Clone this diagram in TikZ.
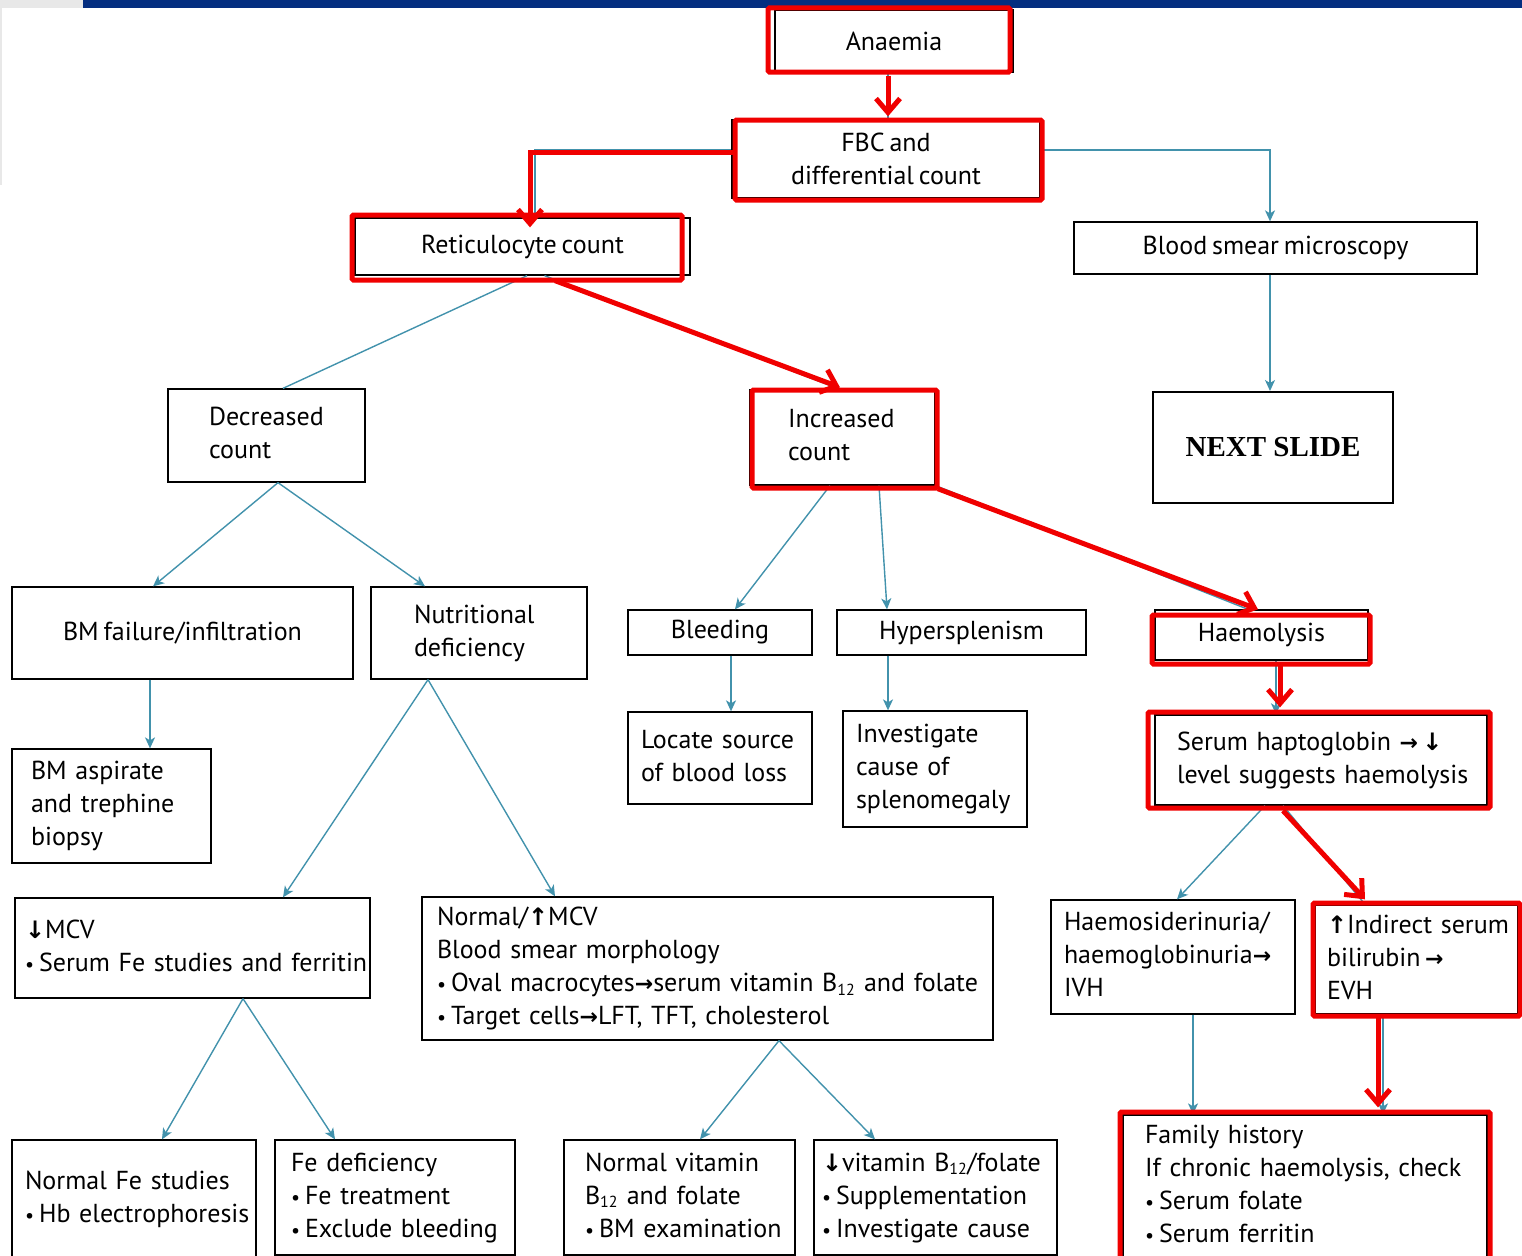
\documentclass[tikz,border=0pt]{standalone}
\usepackage{fontspec}
\setmainfont{PT Sans}[WordSpace=0.7]
\newfontfamily\arrowfont{DejaVu Sans}
\newfontfamily\slidefont{Liberation Serif}
\usetikzlibrary{arrows.meta, calc, positioning}
\definecolor{linkteal}{RGB}{66,146,172}
\definecolor{markred}{RGB}{240,0,0}
\definecolor{slidebar}{RGB}{4,46,128}
\definecolor{headgray}{RGB}{232,232,232}
\newcommand{\boxlines}[1]{\begin{tabular}{@{}l@{}}#1\end{tabular}}
\newcommand{\uparr}{{\arrowfont\bfseries\fontsize{24}{24}\selectfont ↑}}
\newcommand{\dnarr}{{\arrowfont\bfseries\fontsize{24}{24}\selectfont ↓}}
\newcommand{\toarr}{{\arrowfont\bfseries\fontsize{22}{22}\selectfont →}}
\newcommand{\bul}{{\fontsize{20}{20}\selectfont •}\kern5pt}
\newcommand{\Btw}{B\textsubscript{\fontsize{16}{16}\selectfont 12}}

\begin{document}
\begin{tikzpicture}[x=1pt,y=-1pt,
    box/.style={draw, line width=1.3pt, inner sep=0pt, align=center,
      font=\fontsize{26}{33}\selectfont},
    lbox/.style={box, align=left},
    link/.style={draw=linkteal, line width=1.4pt},
    linkarrow/.style={link, -{Stealth[length=11pt,width=10pt,inset=3pt]}},
    hilite/.style={draw=markred, line width=5pt, rounded corners=1.5pt},
    hiarrow/.style={draw=markred, line width=5pt,
      -{Straight Barb[length=14pt,width=24pt]}}]

  \useasboundingbox (0,0) rectangle (1522,1255);

  % slide header
  \fill[headgray] (0,0) rectangle (83,8);
  \fill[slidebar] (83,0) rectangle (1522,8);
  \fill[headgray] (0,8) rectangle (2,185);

  % top levels
  \node[box, minimum width=238pt, minimum height=62pt] (anaemia) at (894,41) {Anaemia};
  \node[box, minimum width=308pt, minimum height=78pt] (fbc) at (886,159) {FBC and\\differential count};
  \node[box, minimum width=335pt, minimum height=57pt] (retic) at (522.5,246.5) {Reticulocyte count};
  \node[box, minimum width=403pt, minimum height=52pt] (smear) at (1275.5,248) {Blood smear microscopy};
  \node[box, line width=2pt, minimum width=240pt, minimum height=111pt,
    font=\slidefont\bfseries\fontsize{29}{30}\selectfont] (next) at (1273,447.5) {NEXT SLIDE};

  % reticulocyte count
  \node[lbox, minimum height=93pt, text width=115pt, inner xsep=41pt] (decr) at (266.5,435.5) {\boxlines{Decreased\\count}};
  \node[lbox, minimum height=95pt, text width=109pt, inner xsep=38pt] (incr) at (842.5,437.5) {\boxlines{Increased\\count}};

  % causes
  \node[box, minimum width=341pt, minimum height=92pt] (bmf) at (182.5,633) {BM failure/infiltration};
  \node[lbox, minimum height=92pt, text width=130pt, inner xsep=43pt] (nutr) at (479,633) {\boxlines{Nutritional\\deficiency}};
  \node[box, minimum width=184pt, minimum height=45pt] (bleed) at (720,632.5) {Bleeding};
  \node[box, minimum width=249pt, minimum height=45pt] (hyper) at (961.5,632.5) {Hypersplenism};
  \node[box, minimum width=213pt, minimum height=50pt] (haemo) at (1261.5,635) {Haemolysis};

  % first tests
  \node[lbox, minimum height=114pt, text width=161pt, inner xsep=19pt] (bma) at (111.5,806) {\boxlines{BM aspirate\\and trephine\\biopsy}};
  \node[lbox, minimum height=92pt, text width=158pt, inner xsep=13pt] (locate) at (720,758) {\boxlines{Locate source\\of blood loss}};
  \node[lbox, minimum height=116pt, text width=158pt, inner xsep=13pt] (invest) at (935,769) {\boxlines{Investigate\\cause of\\splenomegaly}};
  \node[lbox, minimum height=90pt, text width=288pt, inner xsep=22pt] (hapto) at (1321,760) {\boxlines{Serum haptoglobin \toarr\,\dnarr\\level suggests haemolysis}};

  % MCV and haemolysis markers
  \node[lbox, minimum height=100pt, text width=335pt, inner xsep=10pt] (mcvlow) at (192.5,948) {\boxlines{\dnarr MCV\\\bul Serum Fe studies and ferritin}};
  \node[lbox, minimum height=143pt, text width=541pt, inner xsep=15pt] (mcvhigh) at (707.5,968.5) {\boxlines{Normal/\uparr MCV\\Blood smear morphology\\\bul Oval macrocytes\toarr serum vitamin \Btw{} and folate\\\bul Target cells\toarr LFT, TFT, cholesterol}};
  \node[lbox, minimum height=114pt, text width=218pt, inner xsep=13pt] (ivh) at (1173,957) {\boxlines{Haemosiderinuria/\\haemoglobinuria\toarr\\IVH}};
  \node[lbox, minimum height=109pt, text width=179pt, inner xsep=12pt] (evh) at (1416.5,959.5) {\boxlines{\uparr Indirect serum\\bilirubin\,\toarr\\EVH}};

  % last row
  \node[lbox, minimum height=119pt, text width=218pt, inner xsep=13pt] (normfe) at (134,1199.5) {\boxlines{Normal Fe studies\\\bul Hb electrophoresis}};
  \node[lbox, minimum height=115pt, text width=208pt, inner xsep=16pt] (fedef) at (395,1197.5) {\boxlines{Fe deficiency\\\bul Fe treatment\\\bul Exclude bleeding}};
  \node[lbox, minimum height=115pt, text width=189pt, inner xsep=21pt] (normvit) at (679.5,1197.5) {\boxlines{Normal vitamin\\\Btw{} and folate\\\bul BM examination}};
  \node[lbox, minimum height=115pt, text width=227pt, inner xsep=8pt] (vitlow) at (935.5,1197.5) {\boxlines{\dnarr vitamin \Btw/folate\\\bul Supplementation\\\bul Investigate cause}};
  \node[lbox, minimum height=143pt, text width=320pt, inner xsep=22pt] (family) at (1305,1186.5) {\boxlines{Family history\\If chronic haemolysis, check\\\bul Serum folate\\\bul Serum ferritin}};

  % teal connectors
  \draw[link] ([xshift=-6pt]anaemia.south) -- ([xshift=-6pt]anaemia.south |- fbc.north);
  \draw[link] ([yshift=9pt]fbc.west) -| ([xshift=12.5pt]retic.north);
  \draw[linkarrow] ([yshift=9pt]fbc.east) -| ([xshift=-5.5pt]smear.north);
  \draw[link] ([xshift=4.5pt]retic.south) -- ([xshift=16.5pt]decr.north);
  \draw[link] ([xshift=22pt]retic.south) -- ([xshift=-2.5pt]incr.north);
  \draw[linkarrow] ([xshift=-5.5pt]smear.south) -- ([xshift=-5.5pt]smear.south |- next.north);
  \draw[linkarrow] ([xshift=11.5pt]decr.south) -- ([xshift=-29.5pt]bmf.north);
  \draw[linkarrow] ([xshift=11.5pt]decr.south) -- ([xshift=-54pt]nutr.north);
  \draw[linkarrow] ([xshift=-12.5pt]incr.south) -- ([xshift=15pt]bleed.north);
  \draw[linkarrow] ([xshift=36.5pt]incr.south) -- ([xshift=-74.5pt]hyper.north);
  \draw[link] (incr.south east) -- ([xshift=-13.5pt]haemo.north);
  \draw[linkarrow] ([xshift=-32.5pt]bmf.south) -- ([xshift=-32.5pt]bmf.south |- bma.north);
  \draw[linkarrow] ([xshift=-51pt]nutr.south) -- ([xshift=90.5pt]mcvlow.north);
  \draw[linkarrow] ([xshift=-51pt]nutr.south) -- ([xshift=-152.5pt]mcvhigh.north);
  \draw[linkarrow] ([xshift=11pt]bleed.south) -- ([xshift=11pt]bleed.south |- locate.north);
  \draw[linkarrow] ([xshift=-73.5pt]hyper.south) -- ([xshift=-73.5pt]hyper.south |- invest.north);
  \draw[linkarrow] ([xshift=14.5pt]haemo.south) -- ([xshift=14.5pt]haemo.south |- hapto.north);
  \draw[linkarrow] ([xshift=-56pt]hapto.south) -- ([xshift=4pt]ivh.north);
  \draw[link] ([xshift=-38pt]hapto.south) -- ([xshift=-51.5pt]evh.north);
  \draw[linkarrow] ([xshift=50.5pt]mcvlow.south) -- ([xshift=28pt]normfe.north);
  \draw[linkarrow] ([xshift=50.5pt]mcvlow.south) -- ([xshift=-60pt]fedef.north);
  \draw[linkarrow] ([xshift=71.5pt]mcvhigh.south) -- ([xshift=20.5pt]normvit.north);
  \draw[linkarrow] ([xshift=71.5pt]mcvhigh.south) -- ([xshift=-60.5pt]vitlow.north);
  \draw[linkarrow] ([xshift=20pt]ivh.south) -- ([xshift=20pt]ivh.south |- family.north);
  \draw[linkarrow] ([xshift=-33.5pt]evh.south) -- ([xshift=-33.5pt]evh.south |- family.north);

  % red highlights
  \draw[hilite] (768,8) rectangle (1010,72);
  \draw[hilite] (735,120) rectangle (1042,200);
  \draw[hilite] (352,215) rectangle (682,280);
  \draw[hilite] (752,390) rectangle (937,488);
  \draw[hilite] (1152,615) rectangle (1370,664);
  \draw[hilite] (1148,712) rectangle (1490,808);
  \draw[hilite] (1313,903) rectangle (1520,1016);
  \draw[hilite] (1120,1112) rectangle (1490,1262);

  % red path
  \draw[hiarrow] ([xshift=-6pt,yshift=-3pt]anaemia.south) -- ([xshift=2pt,yshift=3pt]fbc.north);
  \draw[hiarrow] ([xshift=3pt,yshift=7pt]fbc.west) -| ([xshift=7.5pt,yshift=-10pt]retic.north);
  \draw[hiarrow] ([xshift=32.5pt,yshift=-5pt]retic.south) -- ([xshift=-2.5pt,yshift=2pt]incr.north);
  \draw[hiarrow] ([xshift=2pt,yshift=-3pt]incr.south east) -- ([xshift=-3.5pt]haemo.north);
  \draw[hiarrow] ([xshift=18.5pt,yshift=-4pt]haemo.south) -- ([xshift=-41pt,yshift=7pt]hapto.north);
  \draw[hiarrow] ([xshift=-38pt,yshift=-5pt]hapto.south) -- ([xshift=-51.5pt,yshift=5pt]evh.north);
  \draw[hiarrow] ([xshift=-38.5pt,yshift=-2pt]evh.south) -- ([xshift=73pt,yshift=7pt]family.north);

\end{tikzpicture}
\end{document}
